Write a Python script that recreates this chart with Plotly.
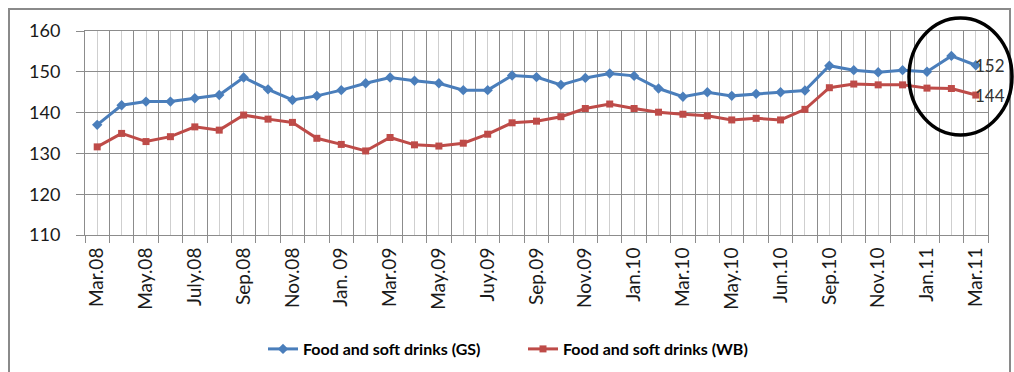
import plotly.graph_objects as go

# ---- data -------------------------------------------------------------
tick_labels = ["Mar.08", "May.08", "July.08", "Sep.08", "Nov.08", "Jan. 09",
               "Mar.09", "May.09", "Juy.09", "Sep.09", "Nov.09", "Jan.10",
               "Mar.10", "May.10", "Jun.10", "Sep.10", "Nov.10", "Jan.11",
               "Mar.11"]
gs = [137.0, 141.8, 142.7, 142.7, 143.5, 144.3, 148.6, 145.7, 143.1, 144.1,
      145.5, 147.2, 148.6, 147.8, 147.2, 145.5, 145.5, 149.1, 148.7, 146.8,
      148.5, 149.6, 149.0, 145.9, 143.9, 145.0, 144.1, 144.6, 145.0, 145.4,
      151.5, 150.4, 149.9, 150.4, 150.0, 153.9, 151.6]
wb = [131.6, 134.9, 132.9, 134.1, 136.5, 135.7, 139.4, 138.4, 137.6, 133.7,
      132.2, 130.6, 133.9, 132.1, 131.8, 132.5, 134.7, 137.5, 137.9, 139.0,
      141.0, 142.1, 141.0, 140.1, 139.6, 139.2, 138.2, 138.6, 138.2, 140.8,
      146.1, 147.0, 146.8, 146.8, 146.0, 145.9, 144.3]
series_names = ["Food and soft drinks (GS)", "Food and soft drinks (WB)"]
y_ticks = [110, 120, 130, 140, 150, 160]

# ---- figure -----------------------------------------------------------
n = len(gs)
x = list(range(n))
ticktext = []
for i in range(n):
    ticktext.append(tick_labels[i // 2] if i % 2 == 0 else "")

BLUE = "#4A7EBB"
RED = "#BE4B48"
FONT = "Lato"

fig = go.Figure()
fig.add_trace(go.Scatter(x=x, y=gs, name=series_names[0], mode="lines+markers",
                         line=dict(color=BLUE, width=3),
                         marker=dict(symbol="diamond", size=8, color=BLUE)))
fig.add_trace(go.Scatter(x=x, y=wb, name=series_names[1], mode="lines+markers",
                         line=dict(color=RED, width=3),
                         marker=dict(symbol="square", size=7, color=RED)))

for vals in (gs, wb):
    fig.add_annotation(x=x[-1], y=vals[-1], text=f"{round(vals[-1])}",
                       xanchor="left", yanchor="middle", xshift=-3,
                       showarrow=False,
                       font=dict(family=FONT, size=17, color="#333333"))

L, R, T, B = 85, 26, 31, 137
W, H = 1014, 372
pw, ph = W - L - R, H - T - B

def px_x(p):
    return (p - L) / pw

def px_y(p):
    return (H - B - p) / ph

# outer chart border
fig.add_shape(type="rect", xref="paper", yref="paper",
              x0=px_x(9), x1=px_x(1010), y0=px_y(400), y1=px_y(9),
              line=dict(color="#8a8a8a", width=2), layer="below")
# highlight ellipse
fig.add_shape(type="circle", xref="paper", yref="paper",
              x0=px_x(909), x1=px_x(1012), y0=px_y(135), y1=px_y(18),
              line=dict(color="black", width=3.5))

fig.update_layout(
    width=W, height=H,
    margin=dict(l=L, r=R, t=T, b=B, autoexpand=False),
    paper_bgcolor="white", plot_bgcolor="white",
    font=dict(family=FONT, color="#1a1a1a"),
    showlegend=True,
    legend=dict(orientation="h", x=px_x(263), xanchor="left",
                y=px_y(349), yanchor="middle",
                font=dict(family=FONT, size=16, color="black", weight="bold"),
                entrywidth=215, entrywidthmode="pixels",
                bgcolor="rgba(0,0,0,0)"),
)
fig.update_xaxes(range=[-0.5, n - 0.5], tickmode="array", tickvals=x,
                 ticktext=ticktext, tickangle=-90, ticks="",
                 showgrid=True, gridcolor="#cfcfcf", gridwidth=1,
                 showline=True, linecolor="#8c8c8c", linewidth=1, mirror=True,
                 zeroline=False, automargin=False, ticklabelstandoff=4,
                 tickfont=dict(family=FONT, size=19, color="#1a1a1a"),
                 minor=dict(tickmode="linear", tick0=-0.5, dtick=1,
                            showgrid=True, gridcolor="#8c8c8c", gridwidth=1,
                            ticks="outside", ticklen=7, tickcolor="#8c8c8c"))
fig.update_yaxes(range=[110, 160], tickmode="array", tickvals=y_ticks,
                 showgrid=True, gridcolor="#8c8c8c", gridwidth=1,
                 showline=True, linecolor="#8c8c8c", linewidth=1, mirror=True,
                 ticks="outside", ticklen=8, tickcolor="#8c8c8c",
                 zeroline=False, ticklabelstandoff=12, automargin=False,
                 tickfont=dict(family=FONT, size=18, color="#1a1a1a"))

fig.write_html("out.html")
